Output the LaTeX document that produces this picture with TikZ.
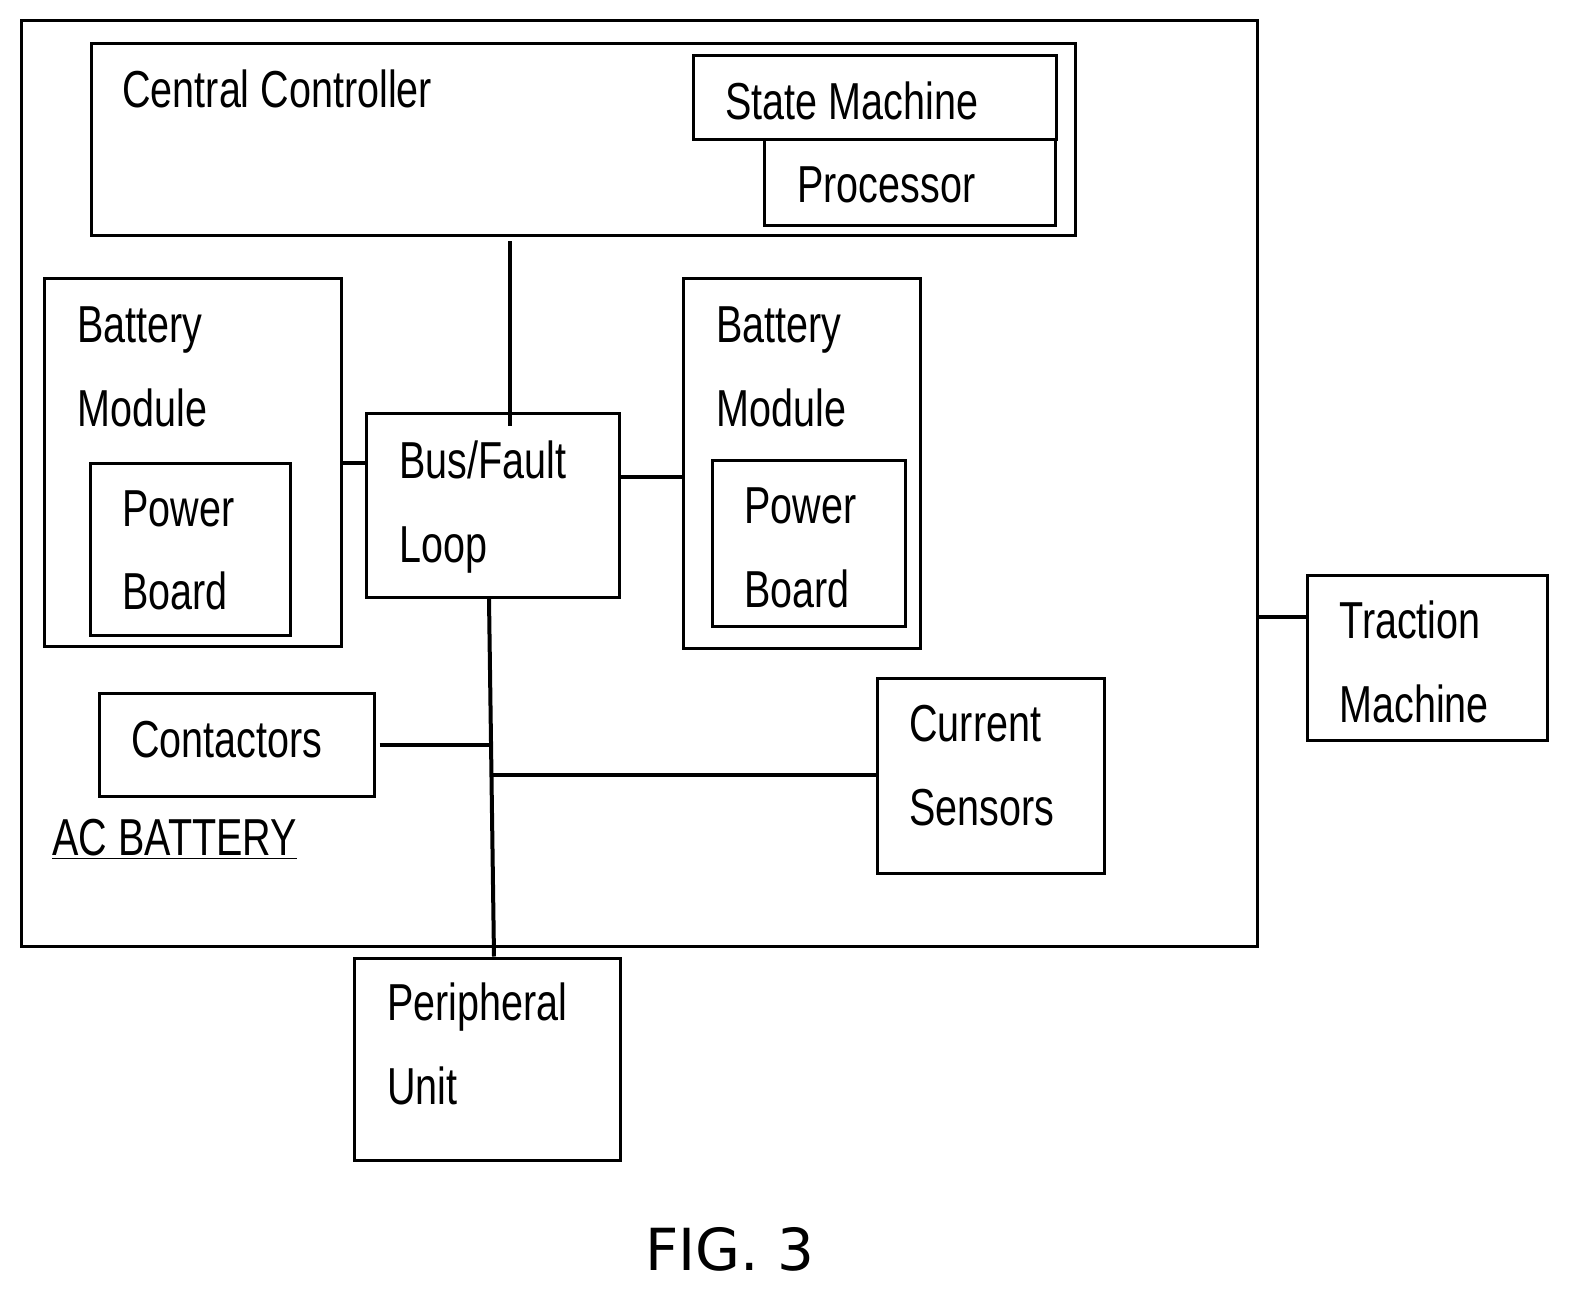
\documentclass[tikz,border=0pt]{standalone}
\usepackage{fontspec}
\setmainfont{Liberation Sans}[FakeStretch=0.76]
\newfontfamily\figfont{DejaVu Sans}
\usetikzlibrary{fit}

\begin{document}
\begin{tikzpicture}[x=0.5pt,y=-0.5pt,
	box/.style={draw,line width=1.5pt,inner sep=0pt},
	lbl/.style={anchor=base west,inner sep=0pt,align=left,
		font=\fontsize{26}{42}\selectfont},
	link/.style={line width=2pt}
]
	\useasboundingbox (0,0) rectangle (1576,1300);

	% outer battery box
	\node[box,fit={(21,21) (1257,946)}] (acbat) {};
	\node[lbl] (aclbl) at (52,855) {\underline{AC BATTERY}};

	% central controller
	\node[box,fit={(91,44) (1075,236)}] (central) {};
	\node[lbl] at (122,108) {Central Controller};
	\node[box,fit={(693,56) (1056,140)}] (statem) {};
	\node[lbl] at (725,120) {State Machine};
	\node[box,fit={(764,140) (1055,226)}] (proc) {};
	\node[lbl] at (797,203) {Processor};

	% battery modules (base = last line)
	\node[box,fit={(44,279) (341,646)}] (modleft) {};
	\node[lbl] at (77,427) {Battery\\Module};
	\node[box,fit={(90,464) (290,635)}] (pwrleft) {};
	\node[lbl] at (122,610) {Power\\Board};
	\node[box,fit={(683,279) (920,648)}] (modright) {};
	\node[lbl] at (716,427) {Battery\\Module};
	\node[box,fit={(712,461) (905,626)}] (pwrright) {};
	\node[lbl] at (744,607) {Power\\Board};

	% bus and the rest
	\node[box,fit={(366,414) (619,597)}] (bus) {};
	\node[lbl] at (399,562) {Bus/Fault\\Loop};
	\node[box,fit={(99,693) (374,796)}] (contact) {};
	\node[lbl] at (131,757) {Contactors};
	\node[box,fit={(877,678) (1104,873)}] (sensors) {};
	\node[lbl] at (909,825) {Current\\Sensors};
	\node[box,fit={(354,958) (620,1160)}] (periph) {};
	\node[lbl] at (387,1104) {Peripheral\\Unit};
	\node[box,fit={(1307,575) (1547,740)}] (traction) {};
	\node[lbl] at (1339,722) {Traction\\Machine};

	\node[inner sep=0pt,anchor=base,font=\figfont\fontsize{29}{34}\selectfont] (fig) at (730,1270) {FIG. 3};

	% connectors
	\coordinate (cx) at (510,0);
	\coordinate (bx) at (489,0);
	\coordinate (px) at (494,0);
	\coordinate (ly) at (0,463);
	\coordinate (ry) at (0,477);
	\coordinate (ty) at (0,617);
	\coordinate (cy) at (0,745);
	\coordinate (sy) at (0,775);
	\coordinate (j1) at (490,745);
	\coordinate (j2) at (490,775);
	\draw[link] (central.south -| cx) ++(0,4) -- ([yshift=-7pt]bus.north -| cx);
	\draw[link] (modleft.east |- ly) -- (bus.west |- ly);
	\draw[link] (bus.east |- ry) -- (modright.west |- ry);
	\draw[link] (bus.south -| bx) -- (periph.north -| px);
	\draw[link] ([xshift=2pt]contact.east |- cy) -- (j1);
	\draw[link] (j2) -- (sensors.west |- sy);
	\draw[link] (acbat.east |- ty) -- (traction.west |- ty);
\end{tikzpicture}
\end{document}
